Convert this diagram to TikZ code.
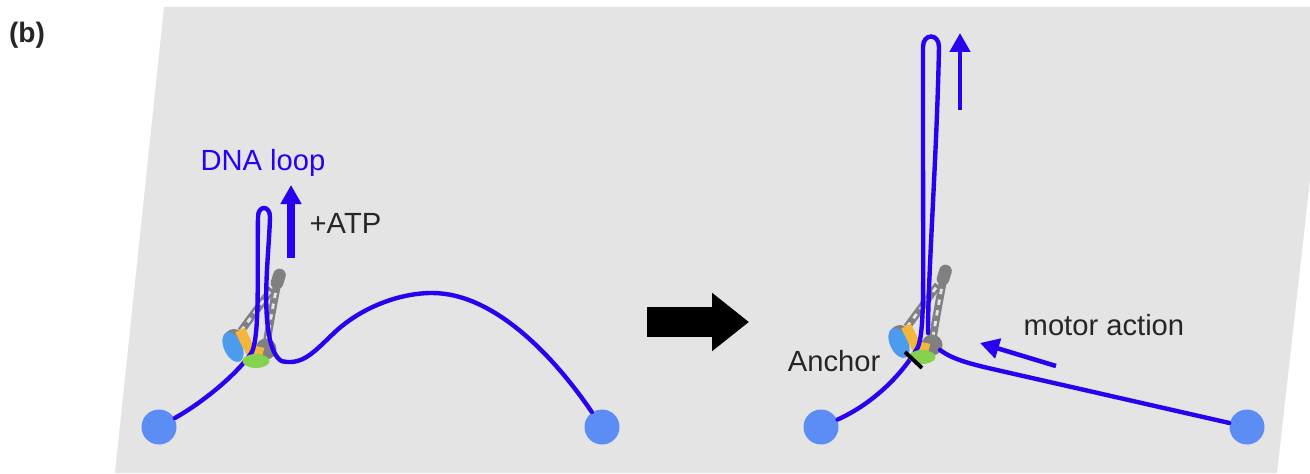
\documentclass[tikz,border=0pt]{standalone}
\usepackage{fontspec}
\setmainfont{Liberation Sans}
\usepackage{xcolor}
\usetikzlibrary{positioning, arrows.meta, calc}
\definecolor{sheetgray}{HTML}{E4E4E4}
\definecolor{dnablue}{HTML}{2A00F0}
\definecolor{beadblue}{HTML}{5B8DF5}
\definecolor{headblue}{HTML}{4C9BEF}
\definecolor{kleisin}{HTML}{F3B63C}
\definecolor{hawkgreen}{HTML}{84D24E}
\definecolor{coilgray}{HTML}{808080}
\tikzset{
    dna/.style={draw=dnablue, line width=1.25pt, line cap=round},
    bead/.style={circle, fill=beadblue, minimum size=0.35cm, inner sep=0pt},
    lbl/.style={font=\fontsize{8.3}{10}\selectfont, inner sep=0pt, text=black!85},
    uparrow/.style={draw=dnablue, -{Triangle[length=0.19cm, width=0.2cm]}},
    coil/.style={draw=coilgray, line width=2.2pt, postaction={draw=sheetgray, line width=0.8pt, dash pattern=on 1.5pt off 1.6pt}},
}

% coiled coils and heads, these lie under the DNA
\newcommand{\smcback}[1]{
\begin{scope}[shift={#1}]
    \draw[coil] (-0.15,0.30) -- (0.16,0.72);
    \draw[coil] (0.11,0.20) .. controls (0.15,0.45) and (0.19,0.65) .. (0.21,0.76);
    \draw[coilgray, line width=3.6pt, line cap=round] (0.21,0.78) -- (0.235,0.86);
    \fill[coilgray] (-0.22,0.22) circle (0.10);
    \fill[coilgray] (0.10,0.12) circle (0.105);
    \fill[headblue, rotate around={-65:(-0.23,0.14)}] (-0.23,0.14) ellipse (0.16 and 0.09);
    \draw[kleisin, line width=3pt] (-0.16,0.31) -- (-0.06,0.11) -- (0.07,0.08);
\end{scope}}
% hawk subunit on top
\newcommand{\smcfront}[1]{
\fill[hawkgreen, shift={#1}] (0,0) ellipse (0.135 and 0.07);}

\begin{document}
\begin{tikzpicture}

% sheet behind everything
\useasboundingbox (0,0) rectangle (13.10,4.73);
\fill[white] (0,0) rectangle (13.10,4.73);
\fill[sheetgray] (1.64,4.66) -- (13.10,4.66) -- (13.10,2.93) -- (12.77,0) -- (1.15,0) -- cycle;

\node[font=\bfseries\fontsize{8}{10}\selectfont, inner sep=0pt, text=black!85] (panel) at (0.27,4.38) {(b)};

% left state
\smcback{(2.56,1.12)}
\node[bead] (anchorL) at (1.59,0.46) {};
\node[bead] (endL) at (6.02,0.46) {};
\draw[dna] (anchorL) .. controls (2.05,0.72) and (2.38,1.00) .. (2.52,1.21)
    .. controls (2.60,1.40) and (2.57,2.00) .. (2.58,2.56)
    .. controls (2.58,2.68) and (2.70,2.68) .. (2.70,2.56)
    .. controls (2.69,2.20) and (2.62,1.70) .. (2.70,1.33)
    .. controls (2.74,1.17) and (2.80,1.10) .. (2.87,1.11)
    .. controls (3.05,1.10) and (3.15,1.22) .. (3.35,1.41)
    .. controls (3.62,1.66) and (4.00,1.80) .. (4.32,1.80)
    .. controls (4.95,1.80) and (5.55,1.15) .. (endL);
\smcfront{(2.56,1.12)}
\coordinate (atpS) at (2.91,2.15);
\coordinate (atpE) at (2.91,2.88);
\draw[uparrow, line width=2pt] (atpS) -- (atpE);
\node[lbl, text=dnablue] (loop) at (2.63,3.10) {DNA loop};
\node[lbl, anchor=west] (atp) at (3.09,2.50) {+ATP};

% black transition arrow
\coordinate (stepS) at (6.47,1.51);
\coordinate (stepE) at (7.49,1.51);
\draw[line width=0.3cm, -{Triangle[length=0.37cm, width=0.56cm]}] (stepS) -- (stepE);

% right state
\smcback{(9.22,1.16)}
\node[bead] (anchorR) at (8.21,0.46) {};
\node[bead] (endR) at (12.47,0.46) {};
\draw[dna] (anchorR) .. controls (8.70,0.68) and (9.00,0.95) .. (9.18,1.26)
    .. controls (9.25,1.45) and (9.23,1.90) .. (9.23,3.43)
    -- (9.23,4.26)
    .. controls (9.23,4.40) and (9.39,4.40) .. (9.39,4.26)
    .. controls (9.37,3.20) and (9.28,2.00) .. (9.28,1.40);
\draw[dna] (9.40,1.23) .. controls (9.55,1.12) and (9.75,1.08) .. (10.10,1.00) -- (endR);
\smcfront{(9.22,1.16)}
\coordinate (pullS) at (9.60,3.63);
\coordinate (pullE) at (9.60,4.40);
\draw[uparrow, line width=1.4pt] (pullS) -- (pullE);
\coordinate (motorS) at (10.56,1.07);
\coordinate (motorE) at (9.80,1.30);
\draw[uparrow, line width=1.3pt] (motorS) -- (motorE);
\node[lbl, anchor=west] (motor) at (10.23,1.48) {motor action};
\node[lbl, anchor=east] (anchor) at (8.81,1.12) {Anchor};
\coordinate (tickS) at (9.05,1.21);
\coordinate (tickE) at (9.22,1.05);
\draw[line width=1.1pt] (tickS) -- (tickE);

\end{tikzpicture}
\end{document}
